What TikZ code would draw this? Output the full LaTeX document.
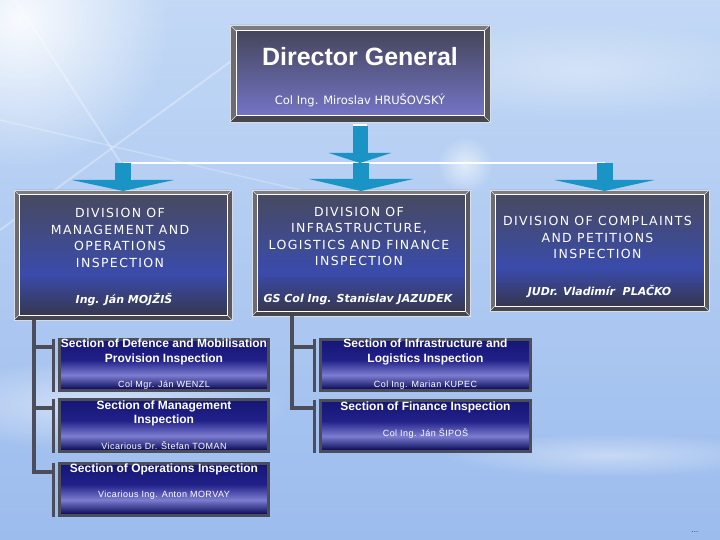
\documentclass[tikz,border=0pt]{standalone}
\usepackage{fontspec}
\setmainfont{Liberation Sans}
\newfontfamily\dvf{DejaVu Sans}[ItalicFont={DejaVu Sans Oblique},BoldFont={DejaVu Sans Bold},BoldItalicFont={DejaVu Sans Bold Oblique}]
\newfontfamily\dvsp{DejaVu Sans}[LetterSpace=11]
\newfontfamily\lssp{Liberation Sans}[LetterSpace=5]
\usetikzlibrary{calc,arrows.meta,fadings}
\definecolor{bgtop}{HTML}{C2D8F5}
\definecolor{bgbot}{HTML}{9CBCEE}
\definecolor{teal}{HTML}{1A94C4}
\definecolor{bvtop}{HTML}{7C7C80}
\definecolor{bvleft}{HTML}{6C6C72}
\definecolor{bvright}{HTML}{58585E}
\definecolor{bvbot}{HTML}{46464C}
\definecolor{bvedge}{HTML}{D8DCE6}
\definecolor{dgtop}{HTML}{45465C}
\definecolor{dgbot}{HTML}{7474C6}
\definecolor{dvtop}{HTML}{484A60}
\definecolor{dvmid}{HTML}{3A4BAB}
\definecolor{dvbot}{HTML}{36374F}
\definecolor{s0}{HTML}{00004E}
\definecolor{s1}{HTML}{7C7CD0}
\definecolor{s2}{HTML}{202088}
\definecolor{s3}{HTML}{161676}
\definecolor{secframe}{HTML}{4B4D5A}
\definecolor{dotnavy}{HTML}{1A2A70}
\pgfdeclareverticalshading{divshade}{100bp}{color(0bp)=(dvbot); color(25bp)=(dvbot); color(42bp)=(dvmid); color(75bp)=(dvtop); color(100bp)=(dvtop)}
\pgfdeclareverticalshading{secshade}{100bp}{color(0bp)=(s0); color(25bp)=(s0); color(40bp)=(s1); color(55bp)=(s2); color(75bp)=(s3); color(100bp)=(s3)}
\tikzfading[name=fuzzy, inner color=transparent!0, outer color=transparent!100]
\tikzset{
  dgface/.style={minimum width=248pt, minimum height=85pt, inner sep=0pt, outer sep=0pt, shading=axis, top color=dgtop, bottom color=dgbot},
  divface/.style={inner sep=0pt, outer sep=0pt, shading=divshade},
  secbox/.style={draw=secframe, line width=3pt, inner sep=0pt, outer sep=0pt, shading=secshade},
  dvtitle/.style={text=white, align=center, inner sep=0pt, font=\dvsp\fontsize{12.5}{16.6}\selectfont},
  dvname/.style={text=white, inner sep=0pt, font=\dvf\bfseries\itshape\fontsize{11}{13}\selectfont},
  sectitle/.style={text=white, align=center, inner sep=0pt, font=\bfseries\fontsize{12}{14.5}\selectfont},
  secname/.style={text=white, inner sep=0pt, font=\lssp\fontsize{9}{11}\selectfont},
  conn/.style={draw=secframe, line width=3.2pt},
  arrowstem/.style={draw=teal, line width=16pt},
  glow/.style={fill=white, path fading=fuzzy},
}
\begin{document}
\begin{tikzpicture}[x=1pt,y=-1pt]
\useasboundingbox (0,0) rectangle (720,540);
% background
\fill[top color=bgtop, bottom color=bgbot] (0,0) rectangle (720,540);
\fill[glow, opacity=0.9] (20,20) circle (150);
\fill[glow, opacity=0.5] (100,405) ellipse (190 and 45);
\fill[glow, opacity=0.4] (610,455) ellipse (170 and 22);
\fill[glow, opacity=0.6] (465,165) circle (28);
\fill[glow, opacity=0.35] (580,70) ellipse (200 and 50);
\draw[white, opacity=0.3, line width=2pt] (15,0) -- (210,300);
\draw[white, opacity=0.3, line width=2pt] (0,230) -- (260,40);
\draw[white, opacity=0.25, line width=1.5pt] (0,120) -- (300,190);

% boxes
\node[dgface] (dg) at (360,73.5) {};
\node[divface, minimum width=208pt, minimum height=120pt] (divA) at (123,255) {};
\node[divface, minimum width=208pt, minimum height=116pt] (divB) at (361,253) {};
\node[divface, minimum width=209pt, minimum height=111pt] (divC) at (599.5,250.5) {};
\foreach \n/\b in {dg/6,divA/5,divB/5,divC/5}{
  \fill[bvtop] (\n.north west) -- ++(-\b,-\b) -- ($(\n.north east)+(\b,-\b)$) -- (\n.north east) -- cycle;
  \fill[bvbot] (\n.south west) -- ++(-\b,\b) -- ($(\n.south east)+(\b,\b)$) -- (\n.south east) -- cycle;
  \fill[bvleft] (\n.north west) -- ++(-\b,-\b) -- ($(\n.south west)+(-\b,\b)$) -- (\n.south west) -- cycle;
  \fill[bvright] (\n.north east) -- ++(\b,-\b) -- ($(\n.south east)+(\b,\b)$) -- (\n.south east) -- cycle;
  \draw[white, line width=1pt] (\n.north west) rectangle (\n.south east);
  \draw[bvedge, line width=0.6pt] ($(\n.north west)+(-\b,-\b)$) rectangle ($(\n.south east)+(\b,\b)$);
  \draw[bvedge, line width=0.5pt] (\n.north west) -- ++(-\b,-\b) (\n.north east) -- ++(\b,-\b)
        (\n.south west) -- ++(-\b,\b) (\n.south east) -- ++(\b,\b);
}

% bus and arrows
\coordinate (bus) at (362,163);
\draw[white, line width=2pt] (divA.north |- bus) -- ([xshift=5pt]divC.north |- bus);
\draw[arrowstem, line width=15pt, -{Triangle[width=62pt,length=10pt]}] ($(dg.south)+(0,10)$) -- (dg.south |- bus);
\draw[white, line width=1.5pt] ($(dg.south)+(-7,9)$) -- ($(dg.south)+(7,9)$);
\draw[arrowstem, -{Triangle[width=102pt,length=11pt]}] (divA.north |- bus) -- ($(divA.north)+(0,-4)$);
\draw[arrowstem, -{Triangle[width=104pt,length=12pt]}] (divB.north |- bus) -- ($(divB.north)+(0,-4)$);
\draw[arrowstem, -{Triangle[width=100pt,length=11pt]}] ([xshift=5pt]divC.north |- bus) -- ($(divC.north)+(5,-4)$);

% section boxes
\node[secbox, minimum width=209pt, minimum height=51pt] (secA1) at (164,365) {};
\node[secbox, minimum width=209pt, minimum height=52pt] (secA2) at (164,425.5) {};
\node[secbox, minimum width=209pt, minimum height=52pt] (secA3) at (164,489.5) {};
\node[secbox, minimum width=210pt, minimum height=51pt] (secB1) at (425.5,365) {};
\node[secbox, minimum width=210pt, minimum height=51pt] (secB2) at (425.5,426) {};

% connectors
\coordinate (tA) at ($(divA.south west)+(15,5)$);
\coordinate (tB) at ($(divB.south west)+(35,5)$);
\foreach \s/\d in {A1/7.5,A2/8.5,A3/8.5}{
  \coordinate (b\s) at ($(sec\s.north west)+(-6,\d)$);
  \draw[conn] (tA |- b\s) -- (b\s);
  \draw[conn] ($(sec\s.north west)+(-6,-1)$) -- ($(sec\s.south west)+(-6,1)$);
}
\foreach \s/\d in {B1/7.5,B2/7.5}{
  \coordinate (b\s) at ($(sec\s.north west)+(-6,\d)$);
  \draw[conn] (tB |- b\s) -- (b\s);
  \draw[conn] ($(sec\s.north west)+(-6,-1)$) -- ($(sec\s.south west)+(-6,1)$);
}
\draw[conn] (tA) -- ([yshift=-1.6pt]tA |- bA3);
\draw[conn] (tB) -- ([yshift=-1.6pt]tB |- bB2);

% texts
\node[text=white, inner sep=0pt, font=\bfseries\fontsize{25}{30}\selectfont] (dgt) at ($(dg.north)+(0,26)$) {Director General};
\node[text=white, inner sep=0pt, font=\dvf\fontsize{11.5}{14}\selectfont] (dgn) at ($(dg.north)+(0,69)$) {Col Ing. Miroslav HRUŠOVSKÝ};

\node[dvtitle] (divAt) at ($(divA.north)+(-3,43)$) {DIVISION OF\\MANAGEMENT AND\\OPERATIONS\\INSPECTION};
\node[dvname] (divAn) at ($(divA.north)+(1,105)$) {Ing. Ján MOJŽIŠ};
\node[dvtitle] (divBt) at ($(divB.north)+(-2,41.5)$) {DIVISION OF\\INFRASTRUCTURE,\\LOGISTICS AND FINANCE\\INSPECTION};
\node[dvname] (divBn) at ($(divB.north)+(-3,105)$) {GS Col Ing. Stanislav JAZUDEK};
\node[dvtitle] (divCt) at ($(divC.north)+(-2,42.5)$) {DIVISION OF COMPLAINTS\\AND PETITIONS\\INSPECTION};
\node[dvname] (divCn) at ($(divC.north)+(0,97)$) {JUDr. Vladimír\ \ PLAČKO};

\node[sectitle] (secA1t) at ($(secA1.north)+(0,12.5)$) {Section of Defence and Mobilisation\\Provision Inspection};
\node[secname] (secA1n) at ($(secA1.north)+(0,45.5)$) {Col Mgr. Ján WENZL};
\node[sectitle] (secA2t) at ($(secA2.north)+(0,14)$) {Section of Management\\Inspection};
\node[secname] (secA2n) at ($(secA2.north)+(0,46.5)$) {Vicarious Dr. Štefan TOMAN};
\node[sectitle] (secA3t) at ($(secA3.north)+(0,5.5)$) {Section of Operations Inspection};
\node[secname] (secA3n) at ($(secA3.north)+(0,31.5)$) {Vicarious Ing. Anton MORVAY};
\node[sectitle] (secB1t) at ($(secB1.north)+(0,12.5)$) {Section of Infrastructure and\\Logistics Inspection};
\node[secname] (secB1n) at ($(secB1.north)+(0,45.5)$) {Col Ing. Marian KUPEC};
\node[sectitle] (secB2t) at ($(secB2.north)+(0,6.5)$) {Section of Finance Inspection};
\node[secname] (secB2n) at ($(secB2.north)+(0,32.5)$) {Col Ing. Ján ŠIPOŠ};

\node[text=dotnavy, inner sep=0pt, font=\fontsize{8}{8}\selectfont] (dots) at (695,532) {...};
\end{tikzpicture}
\end{document}
